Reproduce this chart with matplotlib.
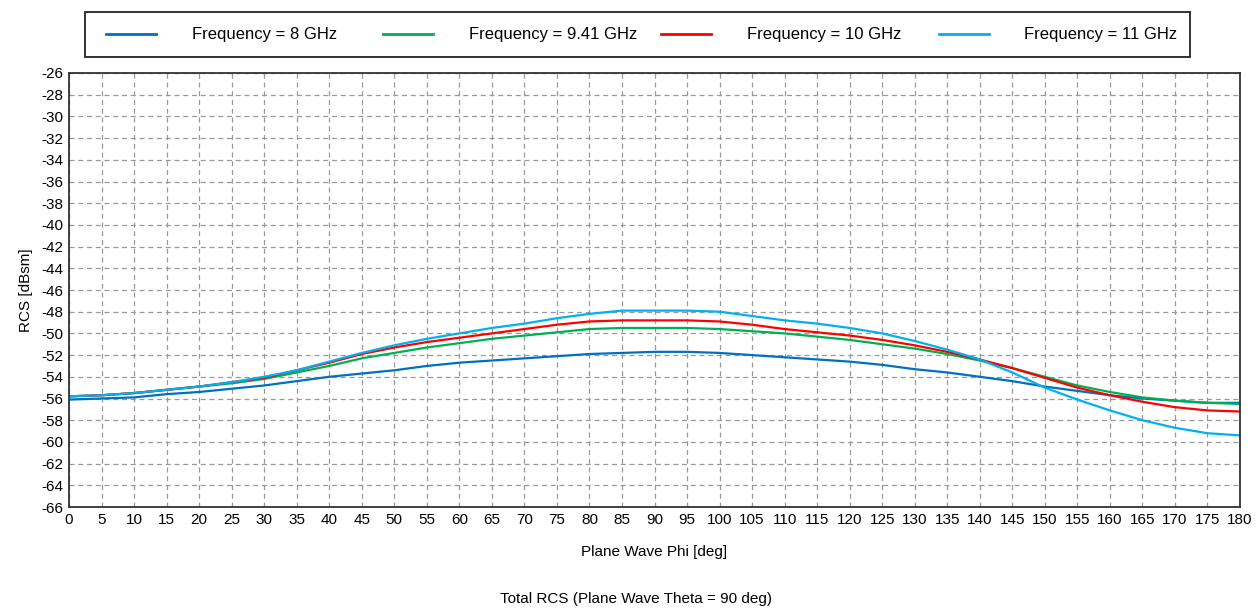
import numpy as np
import matplotlib.pyplot as plt
from matplotlib.patches import Rectangle

plt.rcParams['font.family'] = ['Liberation Sans', 'DejaVu Sans']
plt.rcParams['axes.unicode_minus'] = False

# plane wave phi (deg)
phi = list(range(0, 181, 5))

# RCS [dBsm], one list per frequency
rcs_8 = [-56.1, -56.0, -55.9, -55.6, -55.4, -55.1, -54.8, -54.4, -54.0, -53.7,
         -53.4, -53.0, -52.7, -52.5, -52.3, -52.1, -51.9, -51.8, -51.7, -51.7,
         -51.8, -52.0, -52.2, -52.4, -52.6, -52.9, -53.3, -53.6, -54.0, -54.4,
         -54.9, -55.3, -55.7, -56.0, -56.2, -56.4, -56.4]
rcs_941 = [-55.8, -55.7, -55.5, -55.2, -54.9, -54.6, -54.2, -53.6, -53.0, -52.3,
           -51.8, -51.3, -50.9, -50.5, -50.2, -49.9, -49.6, -49.5, -49.5, -49.5,
           -49.6, -49.8, -50.0, -50.3, -50.6, -51.0, -51.4, -51.9, -52.5, -53.2,
           -54.0, -54.8, -55.4, -55.9, -56.2, -56.4, -56.5]
rcs_10 = [-55.8, -55.7, -55.5, -55.2, -54.9, -54.5, -54.1, -53.4, -52.7, -51.9,
          -51.3, -50.8, -50.4, -50.0, -49.6, -49.2, -48.9, -48.8, -48.8, -48.8,
          -48.9, -49.2, -49.6, -49.9, -50.2, -50.6, -51.1, -51.7, -52.4, -53.2,
          -54.1, -55.0, -55.7, -56.3, -56.8, -57.1, -57.2]
rcs_11 = [-55.8, -55.7, -55.5, -55.2, -54.9, -54.5, -54.0, -53.4, -52.6, -51.8,
          -51.1, -50.5, -50.0, -49.5, -49.1, -48.6, -48.2, -47.9, -47.9, -47.9,
          -48.0, -48.4, -48.8, -49.1, -49.5, -50.0, -50.7, -51.5, -52.4, -53.6,
          -55.0, -56.1, -57.1, -58.0, -58.7, -59.2, -59.4]

series = [
    ('Frequency = 8 GHz', rcs_8, '#0070C0'),
    ('Frequency = 9.41 GHz', rcs_941, '#00B050'),
    ('Frequency = 10 GHz', rcs_10, '#FF0000'),
    ('Frequency = 11 GHz', rcs_11, '#00B0F0'),
]

W, H = 1256, 610
fig = plt.figure(figsize=(W / 100, H / 100), dpi=100)
ax = fig.add_axes([69 / W, 1 - 507 / H, (1240 - 69) / W, (507 - 73) / H])

lines = []
for label, vals, color in series:
    ln, = ax.plot(phi, vals, color=color, linewidth=1.6, label=label)
    lines.append(ln)

ax.set_xlim(0, 180)
ax.set_ylim(-66, -26)
ax.set_xticks(np.arange(0, 181, 5))
ax.set_yticks(np.arange(-66, -25, 2))
ax.grid(True, color='#999999', linestyle=(0, (4, 3)), linewidth=0.9)
ax.tick_params(length=0, labelsize=11, pad=4)
for sp in ax.spines.values():
    sp.set_linewidth(1.3)
    sp.set_color('#333333')

ax.set_ylabel('RCS [dBsm]', fontsize=11, labelpad=6)
ax.set_xlabel('Plane Wave Phi [deg]', fontsize=11, labelpad=13)
fig.text(636 / W, 1 - 599 / H, 'Total RCS (Plane Wave Theta = 90 deg)',
         ha='center', va='center', fontsize=11)

# legend: framed box across the top, four equally spaced entries
fig.patches.append(Rectangle((85 / W, 1 - 57 / H), (1190 - 85) / W, 45 / H,
                             transform=fig.transFigure, fill=False,
                             edgecolor='#222222', linewidth=1.3))
for i, ln in enumerate(lines):
    leg = fig.legend(handles=[ln], loc='center left',
                     bbox_to_anchor=((106 + i * 277.5) / W, 1 - 35 / H),
                     frameon=False, borderpad=0, borderaxespad=0,
                     fontsize=12, handlelength=3.0, handletextpad=2.15)
    for l in leg.get_lines():
        l.set_linewidth(2)

fig.savefig('out.png', dpi=100)
